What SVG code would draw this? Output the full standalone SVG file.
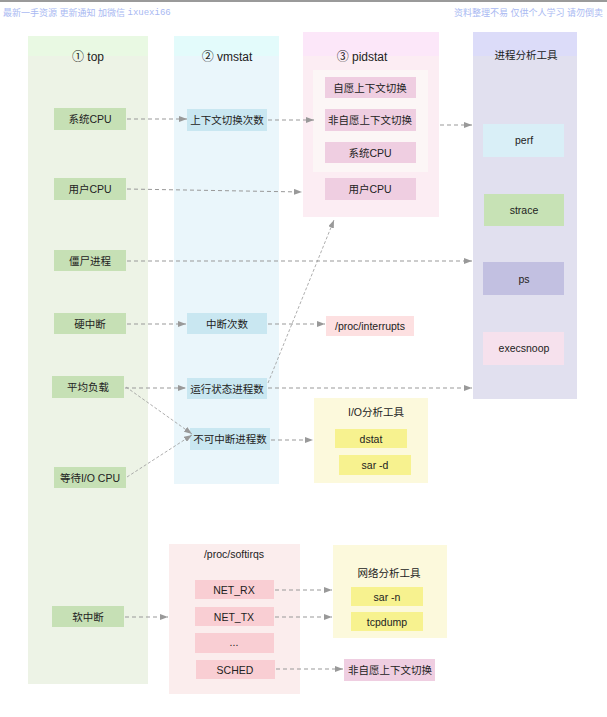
<svg xmlns="http://www.w3.org/2000/svg" width="607" height="717" viewBox="0 0 607 717">
  <defs>
    <marker id="arrow" viewBox="0 0 8 6" refX="8" refY="3" markerWidth="8" markerHeight="6" markerUnits="userSpaceOnUse" orient="auto">
      <path d="M0,0 L8,3 L0,6 z" fill="#999"/>
    </marker>
    <style>
      text { font-family: "Liberation Sans", "Noto Sans CJK SC", sans-serif; fill: #222; text-anchor: middle; dominant-baseline: central; }
      .hd { font-size: 12px; }
      .nd { font-size: 10.5px; }
      .wm { font-size: 9px; fill: #a9b9f2; dominant-baseline: central; }
      .mono { font-family: "Liberation Mono", monospace; }
      .link { fill: none; stroke: #999; stroke-width: 1; stroke-dasharray: 4 3; marker-end: url(#arrow); }
      .thin { fill: none; stroke: #999; stroke-width: 0.8; stroke-dasharray: 3 2; marker-end: url(#arrow); }
      .g { fill: #c6e0b5; }
      .b { fill: #c9e7f1; }
      .p { fill: #efcee1; }
      .y { fill: #f7f28f; }
      .r { fill: #f9ced3; }
    </style>
  </defs>

  <rect x="0" y="0" width="607" height="717" fill="#fff"/>
  <rect x="0" y="0" width="607" height="2" fill="#9a9a9a"/>
  <text class="wm" x="3" y="13" style="text-anchor:start">最新一手资源 更新通知 加微信 <tspan class="mono">ixuexi66</tspan></text>
  <text class="wm" x="603" y="13" style="text-anchor:end">资料整理不易 仅供个人学习 请勿倒卖</text>

  <!-- column: top -->
  <g id="col-top">
    <rect x="28" y="36" width="120" height="648" fill="#edf3e6"/>
    <rect x="28" y="36" width="120" height="20" fill="#e9f9e3"/>
    <text class="hd" x="88" y="57">① top</text>
  </g>
  <!-- column: vmstat -->
  <g id="col-vmstat">
    <rect x="174" y="36" width="105" height="448" fill="#eaf6fb"/>
    <rect x="174" y="36" width="105" height="20" fill="#e3fbfb"/>
    <text class="hd" x="227" y="57">② vmstat</text>
  </g>
  <!-- column: pidstat -->
  <g id="col-pidstat">
    <rect x="303" y="32" width="136" height="185" fill="#fcedf3"/>
    <rect x="303" y="32" width="136" height="24" fill="#fce7f9"/>
    <text class="hd" x="362" y="57">③ pidstat</text>
    <rect x="313" y="70" width="115" height="102" fill="#fcf6f6"/>
  </g>
  <!-- column: process tools -->
  <g id="col-proc">
    <rect x="473" y="32" width="104" height="367" fill="#e1e0ef"/>
    <rect x="473" y="32" width="104" height="24" fill="#dcdcf9"/>
    <text class="nd" x="526" y="55">进程分析工具</text>
  </g>

  <!-- top metrics -->
  <g id="top-sys"><rect class="g" x="54" y="108" width="72" height="22"/><text class="nd" x="90" y="119">系统CPU</text></g>
  <g id="top-user"><rect class="g" x="54" y="178" width="72" height="22"/><text class="nd" x="90" y="189">用户CPU</text></g>
  <g id="top-zombie"><rect class="g" x="54" y="250" width="72" height="21"/><text class="nd" x="90" y="261">僵尸进程</text></g>
  <g id="top-hardirq"><rect class="g" x="54" y="313" width="72" height="21"/><text class="nd" x="90" y="324">硬中断</text></g>
  <g id="top-load"><rect class="g" x="52" y="376" width="72" height="22"/><text class="nd" x="88" y="387">平均负载</text></g>
  <g id="top-iowait"><rect class="g" x="54" y="467" width="72" height="21"/><text class="nd" x="90" y="478">等待I/O CPU</text></g>
  <g id="top-softirq"><rect class="g" x="52" y="606" width="72" height="21"/><text class="nd" x="88" y="617">软中断</text></g>

  <!-- vmstat metrics -->
  <g id="vm-cs"><rect class="b" x="187" y="109" width="80" height="22"/><text class="nd" x="227" y="120">上下文切换次数</text></g>
  <g id="vm-in"><rect class="b" x="187" y="313" width="80" height="21"/><text class="nd" x="227" y="324">中断次数</text></g>
  <g id="vm-r"><rect class="b" x="187" y="378" width="80" height="21"/><text class="nd" x="227" y="389">运行状态进程数</text></g>
  <g id="vm-b"><rect class="b" x="190" y="428" width="80" height="22"/><text class="nd" x="230" y="439">不可中断进程数</text></g>

  <!-- pidstat metrics -->
  <g id="pid-cswch"><rect class="p" x="325" y="77" width="91" height="21"/><text class="nd" x="370" y="88">自愿上下文切换</text></g>
  <g id="pid-nvcswch"><rect class="p" x="325" y="109" width="91" height="22"/><text class="nd" x="370" y="120">非自愿上下文切换</text></g>
  <g id="pid-sys"><rect class="p" x="325" y="142" width="91" height="21"/><text class="nd" x="370" y="153">系统CPU</text></g>
  <g id="pid-user"><rect class="p" x="325" y="178" width="91" height="22"/><text class="nd" x="370" y="189">用户CPU</text></g>

  <!-- process analysis tools -->
  <g id="tool-perf"><rect x="483" y="124" width="81" height="33" fill="#d9eff7"/><text class="nd" x="524" y="140">perf</text></g>
  <g id="tool-strace"><rect x="484" y="194" width="80" height="32" fill="#c7e2b5"/><text class="nd" x="524" y="210">strace</text></g>
  <g id="tool-ps"><rect x="483" y="262" width="81" height="33" fill="#c2c0e1"/><text class="nd" x="524" y="279">ps</text></g>
  <g id="tool-execsnoop"><rect x="483" y="332" width="81" height="33" fill="#f6e1ed"/><text class="nd" x="524" y="348">execsnoop</text></g>

  <!-- /proc/interrupts -->
  <g id="proc-interrupts"><rect x="326" y="316" width="88" height="20" fill="#fde0e1"/><text class="nd" x="370" y="326">/proc/interrupts</text></g>

  <!-- I/O tools -->
  <g id="io-tools">
    <rect x="314" y="398" width="114" height="85" fill="#fcf9dc"/>
    <text class="nd" x="376" y="412">I/O分析工具</text>
    <rect class="y" x="335" y="429" width="72" height="19"/><text class="nd" x="371" y="439">dstat</text>
    <rect class="y" x="339" y="455" width="72" height="20"/><text class="nd" x="375" y="465">sar -d</text>
  </g>

  <!-- /proc/softirqs -->
  <g id="softirqs">
    <rect x="169" y="544" width="131" height="150" fill="#fbeded"/>
    <text class="nd" x="234" y="554">/proc/softirqs</text>
    <rect class="r" x="195" y="580" width="79" height="19"/><text class="nd" x="234" y="590">NET_RX</text>
    <rect class="r" x="195" y="607" width="79" height="19"/><text class="nd" x="234" y="617">NET_TX</text>
    <rect class="r" x="195" y="633" width="79" height="20"/><text class="nd" x="234" y="642">...</text>
    <rect class="r" x="196" y="660" width="79" height="19"/><text class="nd" x="235" y="670">SCHED</text>
  </g>

  <!-- network tools -->
  <g id="net-tools">
    <rect x="333" y="545" width="114" height="93" fill="#fcf9dc"/>
    <text class="nd" x="389" y="573">网络分析工具</text>
    <rect class="y" x="351" y="587" width="72" height="19"/><text class="nd" x="387" y="597">sar -n</text>
    <rect class="y" x="351" y="612" width="72" height="19"/><text class="nd" x="387" y="622">tcpdump</text>
  </g>

  <g id="nvcswch-out"><rect x="344" y="659" width="91" height="22" fill="#efcee1"/><text class="nd" x="390" y="670">非自愿上下文切换</text></g>

  <!-- connectors -->
  <g id="connectors">
    <path class="link" d="M127,119 L187,119"/>
    <path class="link" d="M268,120 L314,120"/>
    <path class="link" d="M440,125 L472,125"/>
    <path class="link" d="M127,189 L302,192"/>
    <path class="link" d="M127,261 L472,261"/>
    <path class="link" d="M127,324 L186,324"/>
    <path class="link" d="M268,324 L325,324"/>
    <path class="link" d="M125,388 L186,388"/>
    <path class="link" d="M268,388 L472,388"/>
    <path class="thin" d="M268,383 L334,220"/>
    <path class="thin" d="M126,387 L192,434"/>
    <path class="thin" d="M127,477 L192,435"/>
    <path class="link" d="M271,440 L313,440"/>
    <path class="link" d="M125,617 L168,617"/>
    <path class="link" d="M275,590 L332,590"/>
    <path class="link" d="M275,617 L332,617"/>
    <path class="link" d="M276,669 L343,669"/>
  </g>
</svg>
